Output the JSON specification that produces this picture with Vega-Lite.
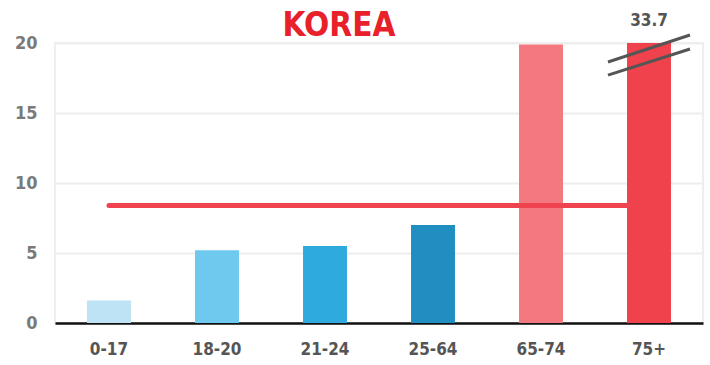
{
  "$schema": "https://vega.github.io/schema/vega-lite/v6.json",
  "width": 648,
  "height": 280,
  "autosize": {"type": "none"},
  "padding": {"left": 55, "top": 43, "right": 7, "bottom": 42},
  "title": {
    "text": "KOREA",
    "font": "DejaVu Sans Condensed",
    "fontSize": 33,
    "fontWeight": "bold",
    "color": "#e8202a",
    "anchor": "middle",
    "baseline": "alphabetic",
    "dx": -40,
    "dy": 65,
    "offset": 8
  },
  "config": {
    "view": {"stroke": "#eeeeee", "strokeWidth": 2},
    "font": "DejaVu Sans Condensed",
    "axisY": {
      "grid": true,
      "gridColor": "#eeeeee",
      "gridWidth": 2,
      "domain": false,
      "ticks": false,
      "labelFont": "DejaVu Sans Condensed",
      "labelFontSize": 18,
      "labelFontWeight": "bold",
      "labelColor": "#7a7a7a",
      "labelPadding": 18,
      "title": null
    },
    "axisX": {
      "domainColor": "#111111",
      "domainWidth": 2.5,
      "ticks": false,
      "labelFont": "DejaVu Sans Condensed",
      "labelFontSize": 17,
      "labelFontWeight": "bold",
      "labelColor": "#555555",
      "labelPadding": 18,
      "labelAngle": 0,
      "title": null
    }
  },
  "datasets": {
    "bars": [
      {"group": "0-17", "value": 1.6},
      {"group": "18-20", "value": 5.2},
      {"group": "21-24", "value": 5.5},
      {"group": "25-64", "value": 7.0},
      {"group": "65-74", "value": 19.9},
      {"group": "75+", "value": 33.7}
    ],
    "avg": [{"from": "0-17", "to": "75+", "value": 8.4}],
    "breaks": [
      {"group": "75+", "y1": 18.64, "y2": 20.57},
      {"group": "75+", "y1": 17.71, "y2": 19.57}
    ],
    "labels": [{"group": "75+", "label": "33.7"}]
  },
  "layer": [
    {
      "data": {"name": "bars"},
      "mark": {"type": "bar", "clip": true},
      "encoding": {
        "x": {
          "field": "group",
          "type": "nominal",
          "sort": null,
          "scale": {"paddingInner": 0.593, "paddingOuter": 0.2965}
        },
        "y": {
          "field": "value",
          "type": "quantitative",
          "scale": {"domain": [0, 20], "nice": false},
          "axis": {"values": [0, 5, 10, 15, 20]}
        },
        "color": {
          "field": "group",
          "type": "nominal",
          "legend": null,
          "scale": {
            "domain": ["0-17", "18-20", "21-24", "25-64", "65-74", "75+"],
            "range": ["#bde3f5", "#6fc8ee", "#2eaadf", "#218ec2", "#f3787f", "#ef424d"]
          }
        }
      }
    },
    {
      "data": {"name": "avg"},
      "mark": {"type": "rule", "color": "#ef4450", "strokeWidth": 5, "strokeCap": "round"},
      "encoding": {
        "x": {"field": "from", "type": "nominal", "bandPosition": 0.5},
        "x2": {"field": "to", "bandPosition": 0},
        "y": {"field": "value", "type": "quantitative"}
      }
    },
    {
      "data": {"name": "breaks"},
      "mark": {"type": "rule", "color": "#555555", "strokeWidth": 3, "xOffset": -41, "x2Offset": 41},
      "encoding": {
        "x": {"field": "group", "type": "nominal"},
        "x2": {"field": "group"},
        "y": {"field": "y1", "type": "quantitative"},
        "y2": {"field": "y2"}
      }
    },
    {
      "data": {"name": "labels"},
      "mark": {
        "type": "text",
        "font": "DejaVu Sans Condensed",
        "fontSize": 17,
        "fontWeight": "bold",
        "color": "#555555",
        "baseline": "alphabetic",
        "dy": -17
      },
      "encoding": {
        "x": {"field": "group", "type": "nominal"},
        "y": {"datum": 20},
        "text": {"field": "label"}
      }
    }
  ]
}
